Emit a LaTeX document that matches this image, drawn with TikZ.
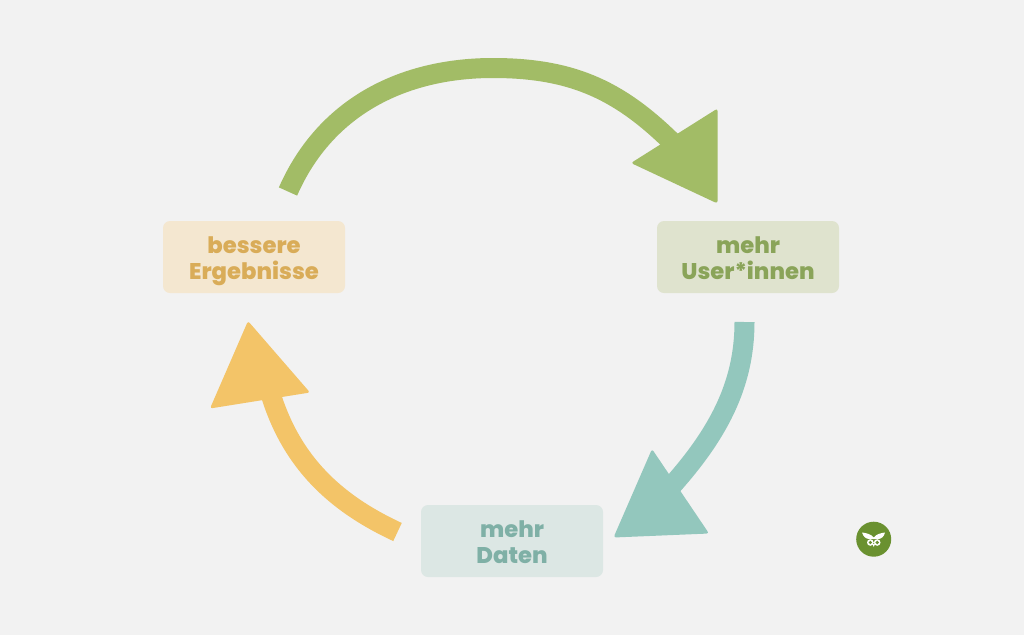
\documentclass[tikz,border=0pt]{standalone}
\usepackage{fontspec}
\setmainfont{Poppins}[BoldFont={Poppins ExtraBold}]
\definecolor{bggray}{HTML}{F2F2F2}
\definecolor{greenarrow}{HTML}{A2BC66}
\definecolor{greenbox}{HTML}{DFE3CE}
\definecolor{greentext}{HTML}{8AA459}
\definecolor{tealarrow}{HTML}{93C7BD}
\definecolor{tealbox}{HTML}{DCE7E4}
\definecolor{tealtext}{HTML}{7FB0A6}
\definecolor{yellowarrow}{HTML}{F3C468}
\definecolor{yellowbox}{HTML}{F4E7D0}
\definecolor{yellowtext}{HTML}{D9AC58}
\definecolor{owlgreen}{HTML}{6A9130}
% two lines of a box, the first one padded so the text sits low enough
\newcommand{\stagelines}[2]{\rule{0pt}{25pt}#1\\#2\vphantom{g}}
\tikzset{
	stagebox/.style={rounded corners=7pt,minimum width=182pt,minimum height=72pt,inner sep=0pt,align=center,
		font=\fontsize{22.7}{26.7}\selectfont\bfseries},
	shaft/.style={line width=20pt},
	headtip/.style={rounded corners=2.5pt},
}
\begin{document}
\begin{tikzpicture}[x=1pt,y=-1pt]
	% background fixes the page size
	\fill[bggray] (0,0) rectangle (1024,635);
	\useasboundingbox (0,0) rectangle (1024,635);

	% the three stages
	\node[stagebox,fill=yellowbox,text=yellowtext] (ergebnisse) at (254,257) {\stagelines{bessere}{Ergebnisse}};
	\node[stagebox,fill=greenbox,text=greentext] (user) at (748,257) {\stagelines{mehr}{User*innen}};
	\node[stagebox,fill=tealbox,text=tealtext] (daten) at (512,541) {\stagelines{mehr}{Daten}};

	% free ends of the arrows
	\coordinate (greenstart) at (288,191.5);
	\coordinate (greenend) at (676,146);
	\coordinate (tealstart) at (744.5,322);
	\coordinate (tealend) at (668,490);
	\coordinate (yellowstart) at (397.5,532);
	\coordinate (yellowend) at (270,392);

	% green arrow
	\draw[shaft,greenarrow] (greenstart) .. controls (326,105) and (405,68) .. (493,68) .. controls (575,68) and (622,92) .. (greenend);
	\fill[headtip,greenarrow] (717.5,108.5) -- (717.5,203.5) -- (631,163) -- cycle;

	% teal arrow
	\draw[shaft,tealarrow] (tealstart) .. controls (744.5,385) and (718,435) .. (tealend);
	\fill[headtip,tealarrow] (652,449) -- (709,533.5) -- (613.5,537.5) -- cycle;

	% yellow arrow
	\draw[shaft,yellowarrow] (yellowstart) .. controls (335,503) and (291,462) .. (yellowend);
	\fill[headtip,yellowarrow] (248,321) -- (310,392.5) -- (210,408.5) -- cycle;

	% owl logo
	\node[circle,fill=owlgreen,minimum size=35pt,inner sep=0pt] (logo) at (873.7,539.2) {};
	\fill[white] (862,532.5) .. controls (866,533) and (871,534) .. (873.7,537.5) .. controls (876.5,534) and (881,533) .. (885,532.5) .. controls (884,537) and (881,539) .. (878,539) -- (869.5,539) .. controls (866,539) and (863.5,537) .. (862,532.5) -- cycle;
	\fill[white] (870.3,542.5) circle (3.3pt) (877.2,542.5) circle (3.3pt);
	\fill[white] (872.5,544) -- (875,544) -- (873.7,547) -- cycle;
	\fill[owlgreen] (870.3,542.5) circle (1.8pt) (877.2,542.5) circle (1.8pt);
\end{tikzpicture}
\end{document}
